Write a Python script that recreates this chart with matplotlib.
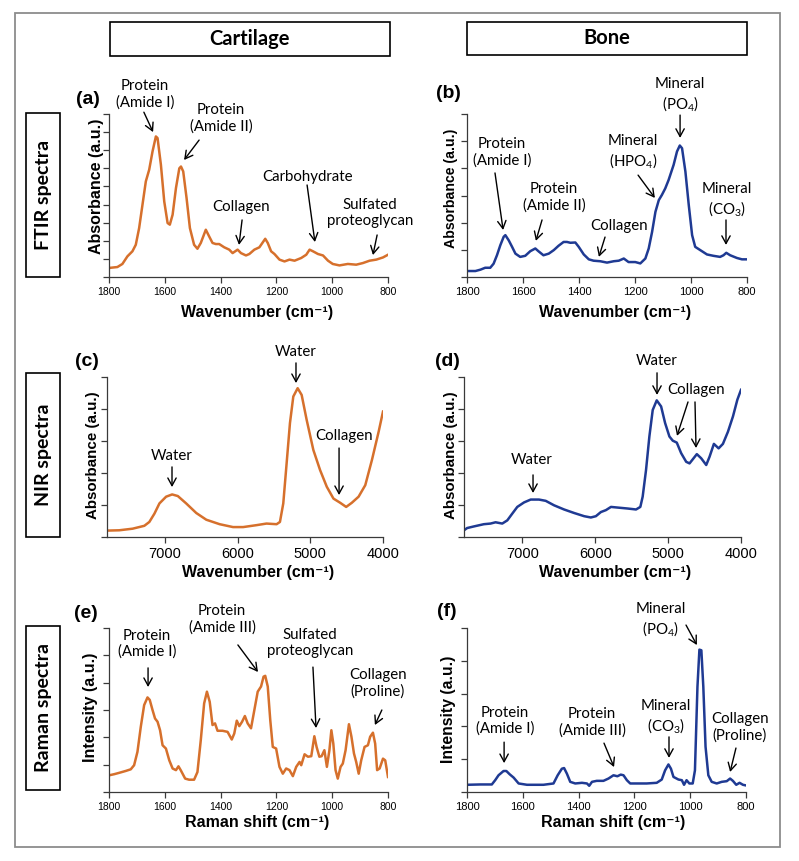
import matplotlib.pyplot as plt
from matplotlib.patches import Rectangle

W, H = 799, 861

orange = '#d6702c'
blue = '#1f3a93'

# (a) cartilage FTIR
a_wn = [1800, 1770, 1752, 1734, 1716, 1704, 1692, 1680, 1668, 1656, 1644, 1632, 1626, 1614, 1602, 1590, 1582,
        1572, 1560, 1548, 1542, 1534, 1522, 1510, 1495, 1483, 1471, 1453, 1441, 1429, 1417, 1405, 1387, 1369,
        1357, 1339, 1327, 1309, 1297, 1279, 1261, 1240, 1231, 1219, 1207, 1189, 1171, 1153, 1135, 1111, 1093,
        1081, 1069, 1051, 1033, 1015, 998, 974, 944, 914, 890, 866, 842, 818, 800]
a_abs = [0.50, 0.55, 0.72, 1.14, 1.42, 1.78, 2.70, 3.99, 5.28, 5.92, 6.93, 7.76, 7.67, 6.20, 4.17, 2.98, 2.89,
         3.44, 4.91, 6.00, 6.10, 5.83, 4.36, 2.70, 1.78, 1.56, 1.88, 2.61, 2.24, 1.88, 1.82, 1.82, 1.64, 1.51,
         1.32, 1.51, 1.32, 1.19, 1.27, 1.51, 1.64, 2.11, 1.88, 1.42, 1.27, 0.96, 0.86, 0.96, 0.90, 1.05, 1.23,
         1.51, 1.42, 1.27, 1.19, 0.90, 0.72, 0.64, 0.72, 0.68, 0.77, 0.90, 0.96, 1.08, 1.23]

# (b) bone FTIR
b_wn = [1800, 1770, 1752, 1735, 1717, 1705, 1693, 1681, 1669, 1663, 1651, 1639, 1627, 1610, 1592, 1574, 1556,
        1545, 1527, 1508, 1490, 1473, 1455, 1443, 1431, 1413, 1401, 1383, 1365, 1348, 1324, 1300, 1276, 1258,
        1240, 1223, 1199, 1181, 1163, 1151, 1139, 1127, 1115, 1104, 1092, 1080, 1062, 1050, 1040, 1032, 1020,
        1008, 996, 985, 967, 943, 920, 896, 884, 874, 860, 836, 818, 800]
b_abs = [0.22, 0.22, 0.27, 0.34, 0.34, 0.49, 0.80, 1.17, 1.48, 1.54, 1.35, 1.11, 0.86, 0.74, 0.78, 0.95, 1.05,
         0.95, 0.80, 0.86, 0.99, 1.15, 1.29, 1.29, 1.26, 1.27, 1.11, 0.83, 0.65, 0.60, 0.58, 0.53, 0.58, 0.60,
         0.68, 0.55, 0.55, 0.50, 0.68, 1.05, 1.66, 2.40, 2.83, 3.02, 3.26, 3.57, 4.13, 4.62, 4.84, 4.74, 3.88,
         2.65, 1.54, 1.11, 0.99, 0.83, 0.78, 0.74, 0.80, 0.89, 0.80, 0.70, 0.65, 0.65]

# (c) cartilage NIR
c_wn = [7800, 7631, 7447, 7286, 7217, 7147, 7078, 6986, 6903, 6825, 6710, 6571, 6433, 6249, 6065, 5926, 5742,
        5604, 5465, 5419, 5373, 5327, 5281, 5235, 5175, 5120, 5051, 4959, 4866, 4774, 4682, 4590, 4507, 4429,
        4336, 4244, 4152, 4060, 4000]
c_abs = [0.20, 0.21, 0.26, 0.35, 0.47, 0.73, 1.05, 1.26, 1.33, 1.28, 1.05, 0.75, 0.54, 0.40, 0.31, 0.31, 0.37,
         0.42, 0.40, 0.47, 1.05, 2.30, 3.56, 4.39, 4.65, 4.44, 3.66, 2.72, 2.09, 1.57, 1.20, 1.07, 0.94, 1.07,
         1.26, 1.62, 2.41, 3.29, 3.92]

# (d) bone NIR
d_wn = [7800, 7757, 7665, 7528, 7436, 7367, 7275, 7206, 7138, 7069, 6977, 6885, 6771, 6679, 6564, 6427, 6289,
        6151, 6060, 5991, 5922, 5853, 5784, 5693, 5555, 5440, 5381, 5349, 5303, 5257, 5211, 5156, 5096, 5041,
        4982, 4936, 4881, 4821, 4752, 4706, 4661, 4606, 4546, 4477, 4431, 4372, 4307, 4248, 4179, 4110, 4050, 4000]
d_abs = [0.21, 0.28, 0.33, 0.40, 0.42, 0.46, 0.42, 0.52, 0.73, 0.94, 1.08, 1.17, 1.17, 1.13, 0.99, 0.86, 0.75,
         0.65, 0.61, 0.65, 0.78, 0.84, 0.94, 0.92, 0.89, 0.86, 0.94, 1.26, 2.09, 3.14, 3.97, 4.27, 4.08, 3.56,
         3.14, 3.01, 2.95, 2.62, 2.35, 2.30, 2.43, 2.59, 2.46, 2.25, 2.51, 2.91, 2.77, 2.91, 3.29, 3.77, 4.29, 4.60]

# (e) cartilage Raman
e_wn = [1800, 1782, 1764, 1740, 1722, 1710, 1698, 1686, 1674, 1662, 1654, 1644, 1635, 1626, 1617, 1608, 1596,
        1584, 1572, 1560, 1551, 1543, 1527, 1513, 1495, 1483, 1471, 1459, 1449, 1439, 1429, 1420, 1411, 1393,
        1375, 1360, 1351, 1342, 1333, 1323, 1313, 1303, 1291, 1279, 1267, 1255, 1246, 1240, 1231, 1222, 1213,
        1201, 1189, 1177, 1165, 1153, 1141, 1129, 1117, 1111, 1099, 1087, 1075, 1064, 1056, 1046, 1038, 1028,
        1019, 1010, 1003, 996, 988, 980, 970, 962, 952, 940, 931, 922, 914, 905, 896, 884, 872, 864, 854, 846,
        839, 830, 818, 810, 800]
e_int = [0.61, 0.65, 0.70, 0.77, 0.83, 0.98, 1.47, 2.39, 3.18, 3.46, 3.37, 3.00, 2.69, 2.57, 2.26, 1.71, 1.59,
         1.16, 0.86, 0.80, 0.94, 0.80, 0.49, 0.45, 0.45, 0.73, 1.90, 3.24, 3.67, 3.30, 2.45, 2.51, 2.24, 2.24,
         2.20, 1.92, 2.14, 2.61, 2.41, 2.57, 2.78, 2.51, 2.33, 3.00, 3.67, 3.86, 4.22, 4.25, 3.86, 2.63, 1.65,
         1.59, 0.92, 0.67, 0.86, 0.80, 0.58, 0.92, 1.10, 0.98, 1.38, 1.29, 1.31, 2.04, 1.65, 1.29, 1.31, 1.53,
         0.92, 1.53, 2.26, 1.77, 0.80, 0.49, 0.92, 1.04, 1.53, 2.48, 2.02, 1.41, 1.10, 0.67, 1.16, 1.65, 1.71,
         2.02, 2.17, 1.77, 0.80, 0.86, 1.22, 1.16, 0.55]

# (f) bone Raman
f_wn = [1800, 1752, 1711, 1699, 1687, 1669, 1659, 1647, 1633, 1615, 1585, 1526, 1490, 1475, 1460, 1452, 1442,
        1430, 1412, 1388, 1370, 1362, 1352, 1335, 1311, 1293, 1275, 1261, 1249, 1239, 1227, 1215, 1191, 1156,
        1120, 1102, 1090, 1078, 1069, 1060, 1042, 1030, 1022, 1013, 1003, 991, 983, 974, 967, 960, 953, 945,
        935, 923, 905, 887, 869, 857, 847, 835, 823, 811, 800]
f_int = [0.22, 0.23, 0.23, 0.36, 0.51, 0.64, 0.64, 0.54, 0.44, 0.26, 0.22, 0.22, 0.26, 0.51, 0.71, 0.73, 0.56,
         0.31, 0.26, 0.28, 0.26, 0.19, 0.31, 0.34, 0.34, 0.41, 0.51, 0.48, 0.53, 0.51, 0.36, 0.26, 0.26, 0.26,
         0.28, 0.38, 0.66, 0.84, 0.71, 0.46, 0.38, 0.36, 0.22, 0.36, 0.26, 0.26, 0.66, 3.21, 4.34, 4.32, 3.21,
         1.38, 0.51, 0.31, 0.26, 0.31, 0.33, 0.41, 0.34, 0.22, 0.28, 0.22, 0.20]

mid_wn = [1800, 1600, 1400, 1200, 1000, 800]
nir_wn = [7000, 6000, 5000, 4000]

wn_label = 'Wavenumber (cm\u207b\u00b9)'
raman_label = 'Raman shift (cm\u207b\u00b9)'

# label, text pos, arrows [(tail, tip), ...] in data coords
notes = {
    'a': [('Protein\n(Amide I)', (1671, 10.1), [((1675, 9.1), (1642, 8.0))]),
          ('Protein\n(Amide II)', (1399, 8.78), [((1477, 7.56), (1531, 6.46))]),
          ('Collagen', (1327, 3.86), [((1323, 3.15), (1334, 1.77))]),
          ('Carbohydrate', (1090, 5.52), [((1090, 5.08), (1062, 1.93))]),
          ('Sulfated\nproteoglycan', (865, 3.53), [((839, 2.32), (854, 1.21))])],
    'b': [('Protein\n(Amide I)', (1675, 4.60), [((1700, 3.83), (1671, 1.73))]),
          ('Protein\n(Amide II)', (1489, 2.94), [((1532, 2.10), (1554, 1.33))]),
          ('Collagen', (1257, 1.88), [((1307, 1.47), (1329, 0.74))]),
          ('Mineral\n(HPO$_4$)', (1207, 4.60), [((1189, 3.75), (1129, 2.91))]),
          ('Mineral\n(PO$_4$)', (1039, 6.70), [((1039, 5.96), (1039, 5.12))]),
          ('Mineral\n(CO$_3$)', (872, 2.83), [((875, 2.10), (875, 1.18))])],
    'c': [('Water', (6905, 2.53), [((6905, 2.19), (6905, 1.56))]),
          ('Water', (5198, 5.78), [((5198, 5.44), (5198, 4.81))]),
          ('Collagen', (4537, 3.16), [((4605, 2.78), (4605, 1.31))])],
    'd': [('Water', (6867, 2.41), [((6853, 1.94), (6853, 1.375))]),
          ('Water', (5152, 5.50), [((5152, 5.13), (5152, 4.44))]),
          ('Collagen', (4617, 4.59), [((4727, 4.22), (4878, 3.16)), ((4631, 4.22), (4617, 2.78))])],
    'e': [('Protein\n(Amide I)', (1664, 5.42), [((1660, 4.54), (1660, 3.84))]),
          ('Protein\n(Amide III)', (1395, 6.33), [((1338, 5.38), (1266, 4.39))]),
          ('Sulfated\nproteoglycan', (1080, 5.45), [((1069, 4.57), (1058, 2.34))]),
          ('Collagen\n(Proline)', (836, 3.99), [((822, 3.0), (847, 2.45))])],
    'f': [('Protein\n(Amide I)', (1664, 2.17), [((1667, 1.52), (1667, 0.88))]),
          ('Protein\n(Amide III)', (1352, 2.13), [((1309, 1.49), (1273, 0.76))]),
          ('Mineral\n(CO$_3$)', (1087, 2.29), [((1076, 1.68), (1076, 1.04))]),
          ('Mineral\n(PO$_4$)', (1105, 5.24), [((1015, 5.09), (976, 4.48))]),
          ('Collagen\n(Proline)', (822, 1.98), [((836, 1.34), (857, 0.61))])],
}

plt.rcParams['mathtext.fontset'] = 'custom'
plt.rcParams['mathtext.rm'] = 'Lato'
plt.rcParams['mathtext.it'] = 'Lato:italic'
plt.rcParams['mathtext.bf'] = 'Lato:bold'
note_font = ['Lato', 'DejaVu Sans']
bold_font = ['Liberation Sans', 'DejaVu Sans']


def fx(x, y):
    return x / W, 1 - y / H


def add_panel(fig, box, wn, vals, color, xlim, ytop, xticks, tick_fs, key):
    x0, y0, x1, y1 = box
    ax = fig.add_axes([x0 / W, 1 - y1 / H, (x1 - x0) / W, (y1 - y0) / H])
    ax.plot(wn, vals, color=color, lw=1.8, solid_joinstyle='round')
    ax.set_xlim(*xlim)
    ax.set_ylim(0, ytop)
    ax.set_xticks(xticks)
    ax.set_yticks(range(ytop + 1))
    ax.set_yticklabels([])
    for s in ['top', 'right']:
        ax.spines[s].set_visible(False)
    for s in ['left', 'bottom']:
        ax.spines[s].set_color('#3a3a3a')
        ax.spines[s].set_linewidth(0.9)
    ax.tick_params(direction='out', length=4, width=0.9, color='#3a3a3a', labelsize=tick_fs, pad=3)
    for lab in ax.get_xticklabels():
        lab.set_family(bold_font)
    for label, tpos, arrows in notes[key]:
        ax.text(tpos[0], tpos[1], label, ha='center', va='center', fontsize=10.8, family=note_font,
                linespacing=1.2, clip_on=False)
        for tail, tip in arrows:
            ax.annotate('', xy=tip, xytext=tail, annotation_clip=False,
                        arrowprops=dict(arrowstyle='->,head_length=0.55,head_width=0.3', lw=1.0,
                                        color='black', shrinkA=0, shrinkB=0))
    return ax


fig = plt.figure(figsize=(W / 100, H / 100), dpi=100)

panels = [
    ('a', (109, 114, 388, 277), a_wn, a_abs, orange, (1800, 800), 9, mid_wn, 7.5),
    ('b', (467, 114, 747, 277), b_wn, b_abs, blue, (1800, 800), 6, mid_wn, 8),
    ('c', (107, 377, 383, 537), c_wn, c_abs, orange, (7800, 4000), 5, nir_wn, 10.5),
    ('d', (464, 377, 741, 537), d_wn, d_abs, blue, (7800, 4000), 5, nir_wn, 10.5),
    ('e', (109, 628, 388, 792), e_wn, e_int, orange, (1800, 800), 6, mid_wn, 7.5),
    ('f', (467, 628, 746, 792), f_wn, f_int, blue, (1800, 800), 5, mid_wn, 8),
]
for key, box, wn, vals, color, xlim, ytop, xticks, tfs in panels:
    add_panel(fig, box, wn, vals, color, xlim, ytop, xticks, tfs, key)

# panel letters
for txt, (x, y) in [('(a)', (88, 99)), ('(b)', (448, 93)), ('(c)', (87, 362)),
                    ('(d)', (447, 362)), ('(e)', (86, 613)), ('(f)', (447, 612))]:
    fig.text(*fx(x, y), txt, ha='center', va='center', fontsize=14, fontweight='bold', family=bold_font)

# axis titles
xlabels = [(wn_label, (257, 312)), (wn_label, (615, 313)), (wn_label, (258, 572)),
           (wn_label, (615, 573)), (raman_label, (257, 822)), (raman_label, (613, 822))]
for txt, (x, y) in xlabels:
    fig.text(*fx(x, y), txt, ha='center', va='center', fontsize=11.5, fontweight='bold', family=bold_font)

ylabels = [('Absorbance (a.u.)', (97, 186), 11.5), ('Absorbance (a.u.)', (451, 188), 10.2),
           ('Absorbance (a.u.)', (93, 455), 10.9), ('Absorbance (a.u.)', (451, 455), 10.9),
           ('Intensity (a.u.)', (90, 707), 11.6), ('Intensity (a.u.)', (448, 709), 11.3)]
for txt, (x, y), fs in ylabels:
    fig.text(*fx(x, y), txt, ha='center', va='center', rotation=90, fontsize=fs,
             fontweight='bold', family=bold_font)

# header boxes
for txt, (x0, y0, x1, y1) in [('Cartilage', (110, 22, 390, 56)), ('Bone', (467, 22, 747, 55))]:
    fig.add_artist(Rectangle(fx(x0, y1), (x1 - x0) / W, (y1 - y0) / H, transform=fig.transFigure,
                             fill=False, ec='black', lw=1.2))
    fig.text(*fx((x0 + x1) / 2, (y0 + y1) / 2), txt, ha='center', va='center', fontsize=14.5,
             fontweight='bold', family=note_font)

for txt, (x0, y0, x1, y1) in [('FTIR spectra', (26, 113, 60, 277)), ('NIR spectra', (26, 373, 60, 537)),
                              ('Raman spectra', (26, 626, 60, 790))]:
    fig.add_artist(Rectangle(fx(x0, y1), (x1 - x0) / W, (y1 - y0) / H, transform=fig.transFigure,
                             fill=False, ec='black', lw=1.2))
    fig.text(*fx((x0 + x1) / 2, (y0 + y1) / 2), txt, ha='center', va='center', rotation=90,
             fontsize=14, fontweight='bold', family=note_font)

# outer frame
fig.add_artist(Rectangle(fx(15, 847), (780 - 15) / W, (847 - 13) / H, transform=fig.transFigure,
                         fill=False, ec='#8c8c8c', lw=1.3))

fig.savefig('out.png', dpi=100)
